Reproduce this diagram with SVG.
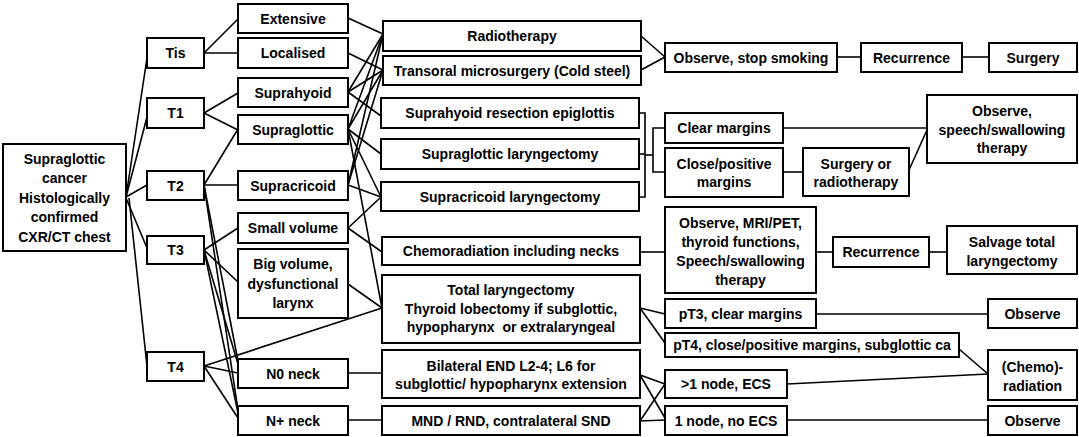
<svg xmlns="http://www.w3.org/2000/svg" width="1079" height="437" viewBox="0 0 1079 437">
<style>
.box{fill:#fff;stroke:#000;stroke-width:2}
.t{font-family:"Liberation Sans",Arial,sans-serif;font-weight:bold;font-size:14px;text-anchor:middle;fill:#000}
.c line,.c polyline{stroke:#000;stroke-width:1.6;fill:none}
</style>
<rect width="1079" height="437" fill="#fff"/>
<g id="connectors" class="c">
<line x1="126" y1="197" x2="147" y2="58"/>
<line x1="126" y1="197" x2="147" y2="117"/>
<line x1="126" y1="197" x2="147" y2="185"/>
<line x1="126" y1="198" x2="147" y2="248"/>
<line x1="129" y1="198" x2="147" y2="366"/>
<line x1="204" y1="53" x2="238" y2="19"/>
<line x1="204" y1="53" x2="238" y2="53"/>
<line x1="204" y1="113" x2="238" y2="93"/>
<line x1="204" y1="113" x2="238" y2="130"/>
<line x1="204" y1="185" x2="238" y2="129"/>
<line x1="204" y1="185" x2="238" y2="185"/>
<line x1="204" y1="185" x2="238" y2="361"/>
<line x1="204" y1="185" x2="238" y2="410"/>
<line x1="204" y1="250" x2="238" y2="228"/>
<line x1="204" y1="250" x2="238" y2="282"/>
<line x1="204" y1="250" x2="238" y2="364"/>
<line x1="204" y1="250" x2="238" y2="413"/>
<line x1="204" y1="366" x2="382" y2="308"/>
<line x1="204" y1="366" x2="238" y2="373"/>
<line x1="204" y1="366" x2="238" y2="418"/>
<line x1="348" y1="18" x2="383" y2="34"/>
<line x1="348" y1="53" x2="383" y2="70"/>
<line x1="348" y1="92" x2="383" y2="34"/>
<line x1="348" y1="92" x2="383" y2="70"/>
<line x1="348" y1="92" x2="381" y2="116"/>
<line x1="348" y1="129" x2="383" y2="34"/>
<line x1="348" y1="129" x2="383" y2="70"/>
<line x1="348" y1="129" x2="381" y2="154"/>
<line x1="348" y1="129" x2="381" y2="197"/>
<line x1="348" y1="129" x2="382" y2="308"/>
<line x1="348" y1="185" x2="383" y2="34"/>
<line x1="348" y1="185" x2="383" y2="70"/>
<line x1="348" y1="185" x2="381" y2="197"/>
<line x1="348" y1="228" x2="381" y2="197"/>
<line x1="348" y1="228" x2="382" y2="252"/>
<line x1="348" y1="284" x2="382" y2="308"/>
<line x1="348" y1="373" x2="382" y2="373"/>
<line x1="348" y1="420" x2="382" y2="420"/>
<line x1="641" y1="36" x2="665" y2="57"/>
<line x1="641" y1="70" x2="665" y2="57"/>
<polyline points="639,113 645,113 645,197 639,197"/>
<line x1="639" y1="154" x2="645" y2="154"/>
<line x1="645" y1="155" x2="653" y2="155"/>
<polyline points="665,128 653,128 653,172 665,172"/>
<line x1="640" y1="252" x2="665" y2="252"/>
<line x1="640" y1="308" x2="665" y2="314"/>
<line x1="640" y1="308" x2="665" y2="343"/>
<line x1="640" y1="375" x2="665" y2="384"/>
<line x1="640" y1="375" x2="665" y2="418"/>
<line x1="640" y1="421" x2="665" y2="384"/>
<line x1="640" y1="421" x2="665" y2="420"/>
<line x1="837" y1="57" x2="861" y2="57"/>
<line x1="962" y1="57" x2="989" y2="57"/>
<line x1="783" y1="128" x2="927" y2="128"/>
<line x1="783" y1="172" x2="803" y2="172"/>
<line x1="909" y1="170" x2="927" y2="130"/>
<line x1="816" y1="252" x2="833" y2="252"/>
<line x1="929" y1="252" x2="947" y2="252"/>
<line x1="816" y1="314" x2="988" y2="314"/>
<line x1="959" y1="349" x2="988" y2="374"/>
<line x1="787" y1="384" x2="988" y2="374"/>
<line x1="787" y1="420" x2="988" y2="420"/>
</g>
<g id="main"><rect class="box" x="3" y="144" width="123" height="107"/>
<text class="t" x="64.5" y="163.5">Supraglottic</text><text class="t" x="64.5" y="183">cancer</text><text class="t" x="64.5" y="202.5">Histologically</text><text class="t" x="64.5" y="222">confirmed</text><text class="t" x="64.5" y="241.5">CXR/CT chest</text></g>
<g id="tis"><rect class="box" x="147" y="38" width="57" height="30"/><text class="t" x="175.5" y="58">Tis</text></g>
<g id="t1"><rect class="box" x="147" y="98" width="57" height="30"/><text class="t" x="175.5" y="118">T1</text></g>
<g id="t2"><rect class="box" x="147" y="171" width="57" height="29"/><text class="t" x="175.5" y="190.5">T2</text></g>
<g id="t3"><rect class="box" x="147" y="236" width="57" height="28"/><text class="t" x="175.5" y="255">T3</text></g>
<g id="t4"><rect class="box" x="147" y="352" width="57" height="29"/><text class="t" x="175.5" y="371.5">T4</text></g>
<g id="extensive"><rect class="box" x="238" y="4" width="110" height="29"/><text class="t" x="293" y="23.5">Extensive</text></g>
<g id="localised"><rect class="box" x="238" y="38" width="110" height="30"/><text class="t" x="293" y="58">Localised</text></g>
<g id="suprahyoid"><rect class="box" x="238" y="78" width="110" height="29"/><text class="t" x="293" y="97.5">Suprahyoid</text></g>
<g id="supraglottic"><rect class="box" x="238" y="115" width="110" height="29"/><text class="t" x="293" y="134.5">Supraglottic</text></g>
<g id="supracricoid"><rect class="box" x="238" y="171" width="110" height="29"/><text class="t" x="293" y="190.5">Supracricoid</text></g>
<g id="small-volume"><rect class="box" x="238" y="213" width="110" height="30"/><text class="t" x="293" y="233">Small volume</text></g>
<g id="big-volume"><rect class="box" x="238" y="249" width="110" height="69"/><text class="t" x="293" y="269">Big volume,</text><text class="t" x="293" y="288.5">dysfunctional</text><text class="t" x="293" y="307.5">larynx</text></g>
<g id="n0-neck"><rect class="box" x="238" y="359" width="110" height="29"/><text class="t" x="293" y="378.5">N0 neck</text></g>
<g id="nplus-neck"><rect class="box" x="238" y="406" width="110" height="29"/><text class="t" x="293" y="425.5">N+ neck</text></g>
<g id="radiotherapy"><rect class="box" x="383" y="21" width="258" height="30"/><text class="t" x="512" y="41">Radiotherapy</text></g>
<g id="transoral"><rect class="box" x="383" y="56" width="258" height="29"/><text class="t" x="512" y="75.5">Transoral microsurgery (Cold steel)</text></g>
<g id="suprahyoid-resection"><rect class="box" x="381" y="98" width="258" height="30"/><text class="t" x="510" y="118">Suprahyoid resection epiglottis</text></g>
<g id="supraglottic-laryngectomy"><rect class="box" x="381" y="139" width="258" height="30"/><text class="t" x="510" y="159">Supraglottic laryngectomy</text></g>
<g id="supracricoid-laryngectomy"><rect class="box" x="381" y="182" width="258" height="29"/><text class="t" x="510" y="201.5">Supracricoid laryngectomy</text></g>
<g id="chemoradiation-necks"><rect class="box" x="382" y="237" width="258" height="28"/><text class="t" x="511" y="256">Chemoradiation including necks</text></g>
<g id="total-laryngectomy"><rect class="box" x="382" y="275" width="258" height="68"/><text class="t" x="511" y="295">Total laryngectomy</text><text class="t" x="511" y="313.5">Thyroid lobectomy if subglottic,</text><text class="t" x="511" y="332" xml:space="preserve">hypopharynx  or extralaryngeal</text></g>
<g id="bilateral-end"><rect class="box" x="382" y="350" width="258" height="48"/><text class="t" x="511" y="370.5">Bilateral END L2-4; L6 for</text><text class="t" x="511" y="389">subglottic/ hypopharynx extension</text></g>
<g id="mnd"><rect class="box" x="382" y="406" width="258" height="29"/><text class="t" x="511" y="425.5">MND / RND, contralateral SND</text></g>
<g id="observe-stop-smoking"><rect class="box" x="665" y="43" width="172" height="29"/><text class="t" x="751" y="62.5">Observe, stop smoking</text></g>
<g id="recurrence-1"><rect class="box" x="861" y="43" width="101" height="29"/><text class="t" x="911.5" y="62.5">Recurrence</text></g>
<g id="surgery"><rect class="box" x="989" y="43" width="88" height="29"/><text class="t" x="1033" y="62.5">Surgery</text></g>
<g id="clear-margins"><rect class="box" x="665" y="113" width="118" height="30"/><text class="t" x="724" y="133">Clear margins</text></g>
<g id="close-margins"><rect class="box" x="665" y="148" width="118" height="49"/><text class="t" x="724" y="169">Close/positive</text><text class="t" x="724" y="187">margins</text></g>
<g id="surgery-or-radiotherapy"><rect class="box" x="803" y="148" width="106" height="48"/><text class="t" x="856" y="169">Surgery or</text><text class="t" x="856" y="187">radiotherapy</text></g>
<g id="observe-speech"><rect class="box" x="927" y="95" width="150" height="68"/><text class="t" x="1002" y="116">Observe,</text><text class="t" x="1002" y="135">speech/swallowing</text><text class="t" x="1002" y="153">therapy</text></g>
<g id="observe-mri"><rect class="box" x="665" y="207" width="151" height="86"/><text class="t" x="740.5" y="228">Observe, MRI/PET,</text><text class="t" x="740.5" y="247">thyroid functions,</text><text class="t" x="740.5" y="266">Speech/swallowing</text><text class="t" x="740.5" y="285">therapy</text></g>
<g id="recurrence-2"><rect class="box" x="833" y="237" width="96" height="30"/><text class="t" x="881" y="257">Recurrence</text></g>
<g id="salvage"><rect class="box" x="947" y="226" width="130" height="48"/><text class="t" x="1012" y="246.5">Salvage total</text><text class="t" x="1012" y="265.5">laryngectomy</text></g>
<g id="pt3"><rect class="box" x="665" y="299" width="151" height="29"/><text class="t" x="740.5" y="318.5">pT3, clear margins</text></g>
<g id="observe-2"><rect class="box" x="988" y="299" width="89" height="29"/><text class="t" x="1032.5" y="318.5">Observe</text></g>
<g id="pt4"><rect class="box" x="665" y="333" width="294" height="24"/><text class="t" x="812" y="350">pT4, close/positive margins, subglottic ca</text></g>
<g id="chemo-radiation"><rect class="box" x="988" y="350" width="89" height="50"/><text class="t" x="1032.5" y="371.5">(Chemo)-</text><text class="t" x="1032.5" y="390.5">radiation</text></g>
<g id="gt1-node"><rect class="box" x="665" y="370" width="122" height="28"/><text class="t" x="726" y="389">&gt;1 node, ECS</text></g>
<g id="one-node"><rect class="box" x="665" y="406" width="122" height="29"/><text class="t" x="726" y="425.5">1 node, no ECS</text></g>
<g id="observe-3"><rect class="box" x="988" y="406" width="89" height="29"/><text class="t" x="1032.5" y="425.5">Observe</text></g>
</svg>
